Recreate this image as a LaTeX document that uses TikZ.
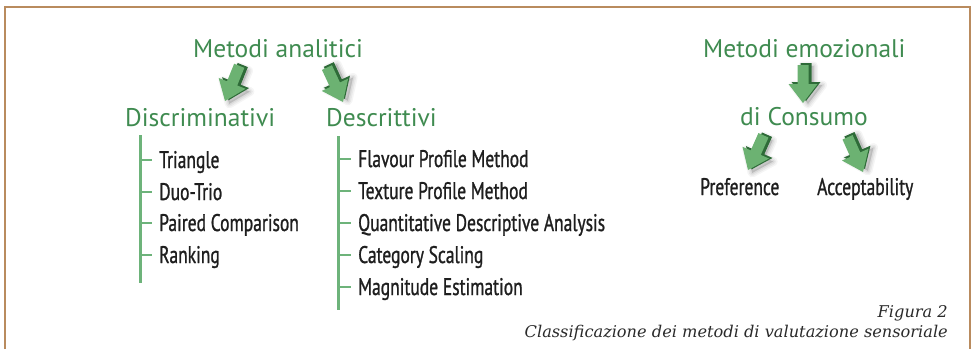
\documentclass[tikz,border=0pt]{standalone}
\usepackage{fontspec}
\newfontfamily\headfont{PT Sans}
\newfontfamily\listfont[FakeStretch=0.73,FakeBold=1]{PT Sans}
\newfontfamily\capfont{DejaVu Serif}
\definecolor{framec}{HTML}{B98B5E}
\definecolor{headg}{HTML}{3F8B50}
\definecolor{lineg}{HTML}{6DB37A}
\definecolor{arrl}{HTML}{6CB272}
\definecolor{arrd}{HTML}{2E6B38}
\definecolor{listk}{HTML}{1E1E1E}
\definecolor{capk}{HTML}{2A2A2A}
\tikzset{
  headtxt/.style={inner sep=0, anchor=base west, text=headg, font=\headfont\fontsize{25.5}{25.5}\selectfont},
  itemtxt/.style={inner sep=0, anchor=base west, text=listk, font=\listfont\fontsize{24}{24}\selectfont},
  captxt/.style={inner sep=0, anchor=base east, text=capk, font=\capfont\itshape\fontsize{16.2}{16.2}\selectfont},
  vline/.style={draw=lineg, line width=3pt},
  tick/.style={draw=lineg, line width=2pt},
  garrow/.pic={
    \foreach \w/\o in {9/0.04,6/0.05,3/0.06}{
      \draw[black, opacity=\o, line width=\w pt, line join=round, fill=black, fill opacity=\o]
        (-5.5+5,38-1) -- (5.5+5,38-1) -- (5.5+5,19-1) -- (14.5+5,19-1) -- (0+5,0-1) -- (-14.5+5,19-1) -- (-5.5+5,19-1) -- cycle;
    }
    \fill[arrd] (-5.5+3,38+2) -- (5.5+3,38+2) -- (5.5+3,19+2) -- (14.5+3,19+2) -- (0+3,0+2) -- (-14.5+3,19+2) -- (-5.5+3,19+2) -- cycle;
    \fill[arrl] (-5.5,38) -- (5.5,38) -- (5.5,19) -- (14.5,19) -- (0,0) -- (-14.5,19) -- (-5.5,19) -- cycle;
  }
}
\begin{document}
\begin{tikzpicture}[x=1pt,y=1pt]
\useasboundingbox (0,0) rectangle (974,-349);
\draw[framec, line width=2pt] (5,-349) -- (5,-7) -- (970,-7) -- (970,-349);

% headings
\node[headtxt] (ana) at (193,-57) {Metodi analitici};
\node[headtxt] (disc) at (125,-126) {Discriminativi};
\node[headtxt] (desc) at (326,-126) {Descrittivi};
\node[headtxt] (emo) at (703,-57) {Metodi emozionali};
\node[headtxt] (cons) at (740,-125) {di Consumo};

% arrows
\pic[rotate=-22] at (225,-101) {garrow};
\pic[rotate=25] at (343,-102) {garrow};
\pic at (803,-103) {garrow};
\pic[rotate=-24] at (748,-170) {garrow};
\pic[rotate=24] at (863,-172) {garrow};

% left list
\coordinate (lt) at (140,-135);
\coordinate (lb) at (140,-283);
\draw[vline] (lt) -- (lb);
\node[itemtxt] (l1) at (159,-168) {Triangle};
\node[itemtxt] (l2) at (159,-200) {Duo-Trio};
\node[itemtxt] (l3) at (159,-231) {Paired Comparison};
\node[itemtxt] (l4) at (159,-263) {Ranking};
\foreach \y in {-160,-192,-223,-255}{
  \draw[tick] (140,\y) -- (152,\y);
}

% right list
\coordinate (rt) at (338,-136);
\coordinate (rb) at (338,-310);
\draw[vline] (rt) -- (rb);
\node[itemtxt] (r1) at (358,-167) {Flavour Profile Method};
\node[itemtxt] (r2) at (358,-199) {Texture Profile Method};
\node[itemtxt] (r3) at (358,-231) {Quantitative Descriptive Analysis};
\node[itemtxt] (r4) at (358,-263) {Category Scaling};
\node[itemtxt] (r5) at (358,-295) {Magnitude Estimation};
\foreach \y in {-159,-191,-223,-255,-287}{
  \draw[tick] (338,\y) -- (351,\y);
}

% consumo items
\node[itemtxt] (pref) at (700,-195) {Preference};
\node[itemtxt] (acc) at (817,-195) {Acceptability};

% caption
\node[captxt] (fig) at (948,-317) {Figura 2};
\node[captxt] (cap) at (948,-337) {Classificazione dei metodi di valutazione sensoriale};
\end{tikzpicture}
\end{document}
